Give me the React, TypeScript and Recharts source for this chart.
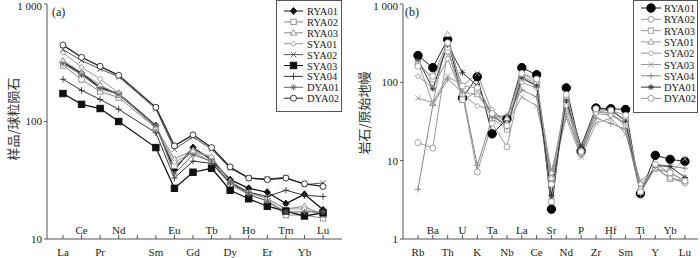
import React from 'react';
import { LineChart, Line, XAxis, YAxis, Legend } from 'recharts';

// (a) chondrite-normalised REE, Pm not analysed
const reeElements = ['La', 'Ce', 'Pr', 'Nd', 'Pm', 'Sm', 'Eu', 'Gd', 'Tb', 'Dy', 'Ho', 'Er', 'Tm', 'Yb', 'Lu'];
const reeBelow = ['La', 'Pr', 'Sm', 'Gd', 'Dy', 'Er', 'Yb'];
const reeRYA01 = [319, 257, 195, 173, null, 92, 39, 60, 47, 32, 27, 25, 20, 24, 17.7];
const reeRYA02 = [300, 228, 180, 160, null, 88, 42, 55, 45, 29, 24, 21, 16, 16, 15];
const reeRYA03 = [330, 260, 205, 168, null, 90, 48, 57, 50, 31, 25, 22, 18, 19, 16];
const reeSYA01 = [385, 290, 230, 175, null, 88, 45, 55, 50, 30, 25, 22, 18, 18, 16];
const reeSYA02 = [410, 330, 280, 240, null, 128, 58, 74, 58, 40, 33, 32.5, 33.5, 29, 30];
const reeSYA03 = [173, 140, 129, 100, null, 60, 27, 37, 40, 26, 22, 19, 17.3, 15.7, 16.7];
const reeSYA04 = [229, 184, 154, 127, null, 80, 33, 46, 44, 30, 25, 23, 26, 23.5, 23];
const reeDYA01 = [310, 250, 190, 170, null, 92, 36, 52, 46, 30, 24, 21, 17, 17, 17];
const reeDYA02 = [447, 352, 295, 247, null, 132, 62, 77, 60, 41, 33, 32, 33, 29.5, 28];

// (b) primitive-mantle-normalised spider diagram
const spiderElements = ['Rb', 'Ba', 'Th', 'U', 'K', 'Ta', 'Nb', 'La', 'Ce', 'Sr', 'Nd', 'P', 'Zr', 'Hf', 'Sm', 'Ti', 'Y', 'Yb', 'Lu'];
const spRYA01 = [220, 154, 353, 63, 118, 22, 34, 154, 125, 2.4, 85, 13.2, 47, 46, 45, 3.8, 11.7, 10.4, 9.8];
const spRYA02 = [17, 14.5, 250, 70, 7.2, 30, 15, 110, 90, 6, 55, 12, 42, 40, 30, 4, 8, 6, 5.2];
const spRYA03 = [180, 110, 280, 60, 75, 35, 25, 120, 95, 3, 60, 13, 45, 43, 33, 4, 8, 7, 5.5];
const spSYA01 = [180, 54, 410, 75, 70, 40, 35, 130, 100, 6, 65, 14, 44, 40, 28, 4.5, 8.5, 5.8, 5.5];
const spSYA02 = [120, 85, 200, 70, 50, 45, 30, 100, 85, 7, 50, 12, 40, 38, 30, 5, 8, 6, 5.5];
const spSYA03 = [63, 55, 120, 90, 130, 42, 30, 65, 50, 7.5, 35, 11, 30, 35, 22, 5.5, 8, 7, 10.5];
const spSYA04 = [4.3, 51, 110, 75, 8.7, 35, 38, 80, 65, 5, 40, 12, 35, 30, 25, 3.8, 9, 8.5, 8];
const spDYA01 = [195, 83, 300, 133, 90, 38, 27, 115, 90, 3.6, 58, 15.3, 47, 45, 32, 4, 8.7, 8.4, 6.1];
const spDYA02 = [160, 120, 320, 90, 85, 40, 28, 130, 110, 5, 70, 13, 46, 44, 38, 4, 9, 7, 5.5];

const reeValues: Record<string, (number | null)[]> = {
  RYA01: reeRYA01, RYA02: reeRYA02, RYA03: reeRYA03, SYA01: reeSYA01, SYA02: reeSYA02,
  SYA03: reeSYA03, SYA04: reeSYA04, DYA01: reeDYA01, DYA02: reeDYA02,
};
const spValues: Record<string, number[]> = {
  RYA01: spRYA01, RYA02: spRYA02, RYA03: spRYA03, SYA01: spSYA01, SYA02: spSYA02,
  SYA03: spSYA03, SYA04: spSYA04, DYA01: spDYA01, DYA02: spDYA02,
};

const serif = '"Liberation Serif", "DejaVu Serif", serif';
const cjk = '"Noto Sans CJK SC", sans-serif';
const axisColor = '#555';

type Style = { name: string; marker: string; stroke: string; width?: number };

const stylesA: Style[] = [
  { name: 'RYA01', marker: 'diamondFilled', stroke: '#111', width: 1.3 },
  { name: 'RYA02', marker: 'squareOpen', stroke: '#888' },
  { name: 'RYA03', marker: 'triangleOpen', stroke: '#888' },
  { name: 'SYA01', marker: 'diamondOpen', stroke: '#999' },
  { name: 'SYA02', marker: 'cross', stroke: '#555' },
  { name: 'SYA03', marker: 'squareFilled', stroke: '#111', width: 1.3 },
  { name: 'SYA04', marker: 'plus', stroke: '#333' },
  { name: 'DYA01', marker: 'asterisk', stroke: '#666' },
  { name: 'DYA02', marker: 'circleOpen', stroke: '#222', width: 1.3 },
];

const stylesB: Style[] = [
  { name: 'RYA01', marker: 'circleFilled', stroke: '#222' },
  { name: 'RYA02', marker: 'circleOpen', stroke: '#999' },
  { name: 'RYA03', marker: 'squareOpen', stroke: '#999' },
  { name: 'SYA01', marker: 'triangleOpen', stroke: '#999' },
  { name: 'SYA02', marker: 'diamondOpen', stroke: '#999' },
  { name: 'SYA03', marker: 'cross', stroke: '#999' },
  { name: 'SYA04', marker: 'plus', stroke: '#888' },
  { name: 'DYA01', marker: 'asterisk', stroke: '#333' },
  { name: 'DYA02', marker: 'circleOpen', stroke: '#999' },
];

const reeRows = reeElements.map((el, i) => {
  const row: any = { x: i, el };
  Object.keys(reeValues).forEach(k => { row[k] = reeValues[k][i]; });
  return row;
});
const spRows = spiderElements.map((el, i) => {
  const row: any = { x: i, el };
  Object.keys(spValues).forEach(k => { row[k] = spValues[k][i]; });
  return row;
});

const Marker = ({ kind, cx, cy, color }: { kind: string; cx: number; cy: number; color: string }) => {
  switch (kind) {
    case 'diamondFilled':
      return <polygon points={`${cx},${cy - 3.5} ${cx + 3},${cy} ${cx},${cy + 3.5} ${cx - 3},${cy}`} fill={color} stroke={color} />;
    case 'squareOpen':
      return <rect x={cx - 2.7} y={cy - 2.7} width={5.4} height={5.4} fill="#fff" stroke={color} strokeWidth={0.9} />;
    case 'squareFilled':
      return <rect x={cx - 3.2} y={cy - 3.2} width={6.4} height={6.4} fill={color} stroke={color} />;
    case 'triangleOpen':
      return <polygon points={`${cx},${cy - 3.2} ${cx + 3.2},${cy + 2.3} ${cx - 3.2},${cy + 2.3}`} fill="#fff" stroke={color} strokeWidth={0.9} />;
    case 'diamondOpen':
      return <polygon points={`${cx},${cy - 2.7} ${cx + 2.7},${cy} ${cx},${cy + 2.7} ${cx - 2.7},${cy}`} fill="#fff" stroke={color} strokeWidth={0.9} />;
    case 'cross':
      return (
        <g stroke={color} strokeWidth={0.9}>
          <line x1={cx - 2.7} y1={cy - 2.7} x2={cx + 2.7} y2={cy + 2.7} />
          <line x1={cx - 2.7} y1={cy + 2.7} x2={cx + 2.7} y2={cy - 2.7} />
        </g>
      );
    case 'plus':
      return (
        <g stroke={color} strokeWidth={0.9}>
          <line x1={cx - 3.2} y1={cy} x2={cx + 3.2} y2={cy} />
          <line x1={cx} y1={cy - 3.2} x2={cx} y2={cy + 3.2} />
        </g>
      );
    case 'asterisk':
      return (
        <g stroke={color} strokeWidth={0.9}>
          <line x1={cx - 3} y1={cy} x2={cx + 3} y2={cy} />
          <line x1={cx} y1={cy - 3} x2={cx} y2={cy + 3} />
          <line x1={cx - 2.2} y1={cy - 2.2} x2={cx + 2.2} y2={cy + 2.2} />
          <line x1={cx - 2.2} y1={cy + 2.2} x2={cx + 2.2} y2={cy - 2.2} />
        </g>
      );
    case 'circleOpen':
      return <circle cx={cx} cy={cy} r={3} fill="#fff" stroke={color} strokeWidth={0.9} />;
    case 'circleFilled':
      return <circle cx={cx} cy={cy} r={4.2} fill="#000" stroke="#000" />;
    default:
      return null;
  }
};

const makeDot = (s: Style) => (p: any) => {
  if (p.cx == null || p.cy == null || p.value == null) return <g key={p.index} />;
  return (
    <g key={p.index}>
      <Marker kind={s.marker} cx={p.cx} cy={p.cy} color={s.stroke} />
    </g>
  );
};

const makeTick = (labels: string[], isBelow: (i: number, lab: string) => boolean) => (props: any) => {
  const { x, y, payload } = props;
  const i = payload.value;
  const lab = labels[i];
  const below = isBelow(i, lab);
  return (
    <g>
      <line x1={x} y1={y} x2={x} y2={y - 4} stroke={axisColor} />
      {lab !== 'Pm' && (
        <text x={x} y={below ? y + 17 : y - 5} textAnchor="middle" fontSize={11} fill="#222" fontFamily={serif}>
          {lab}
        </text>
      )}
    </g>
  );
};

const LegendBox = ({ styles, rowH, lineX, textX, topPad }: { styles: Style[]; rowH: number; lineX: [number, number]; textX: number; topPad: number }) => (
  <div style={{ border: `1px solid ${axisColor}`, background: '#fff', position: 'relative', height: styles.length * rowH + topPad + 2 }}>
    <svg width="100%" height="100%" style={{ position: 'absolute', left: 0, top: 0, overflow: 'visible' }}>
      {styles.map((s, i) => {
        const y = topPad + i * rowH;
        const mx = (lineX[0] + lineX[1]) / 2;
        return (
          <g key={s.name}>
            <line x1={lineX[0]} y1={y} x2={lineX[1]} y2={y} stroke={s.stroke} />
            <Marker kind={s.marker} cx={mx} cy={y} color={s.stroke} />
            <text x={textX} y={y + 4} fontSize={10.5} fill="#222" fontFamily={serif}>{s.name}</text>
          </g>
        );
      })}
    </svg>
  </div>
);

const fmtLog = (v: number) => (v === 1000 ? '1 000' : String(v));

export default function App() {
  const reeTick = makeTick(reeElements, (_i, lab) => reeBelow.includes(lab));
  const spTick = makeTick(spiderElements, i => i % 2 === 0);

  return (
    <div style={{ position: 'absolute', left: 0, top: 0, width: 700, height: 258, background: '#fff', fontFamily: serif }}>
      {/* panel (a) */}
      <div style={{ position: 'absolute', left: 0, top: 0 }}>
        <LineChart width={350} height={258} data={reeRows} margin={{ top: 4, right: 8, left: 0, bottom: 0 }}>
          <XAxis
            dataKey="x"
            type="number"
            domain={[-0.86, 15.02]}
            ticks={reeElements.map((_, i) => i)}
            interval={0}
            tick={reeTick}
            tickLine={false}
            tickSize={0}
            tickMargin={0}
            height={19}
            stroke={axisColor}
            allowDataOverflow
          />
          <XAxis xAxisId="top" orientation="top" dataKey="x" type="number" domain={[-0.86, 15.02]} tick={false} height={0} stroke={axisColor} />
          <YAxis
            scale="log"
            type="number"
            domain={[10, 1000]}
            ticks={[10, 100, 1000]}
            tickFormatter={fmtLog}
            tick={{ fontSize: 11, fill: '#222', fontFamily: serif }}
            tickSize={3}
            tickMargin={2}
            width={47}
            stroke={axisColor}
            allowDataOverflow
          />
          <YAxis yAxisId="right" orientation="right" tick={false} width={0} stroke={axisColor} />
          <Legend
            layout="horizontal"
            verticalAlign="middle"
            align="center"
            wrapperStyle={{ position: 'absolute', left: 276, top: 0, width: 66, height: 103 }}
            content={() => <LegendBox styles={stylesA} rowH={10.9} lineX={[7, 26]} textX={30} topPad={10} />}
          />
          {stylesA.map(s => (
            <Line
              key={s.name}
              dataKey={s.name}
              stroke={s.stroke}
              strokeWidth={s.width ?? 1}
              dot={makeDot(s)}
              activeDot={false}
              connectNulls
              isAnimationActive={false}
            />
          ))}
        </LineChart>
        <div style={{ position: 'absolute', left: 52, top: 5, fontSize: 12, fontFamily: serif, color: '#222' }}>(a)</div>
        <div style={{ position: 'absolute', left: 12, top: 119, transform: 'translate(-50%, -50%) rotate(-90deg)', whiteSpace: 'nowrap', fontSize: 13, fontFamily: cjk, color: '#333' }}>
          样品/球粒陨石
        </div>
      </div>

      {/* panel (b) */}
      <div style={{ position: 'absolute', left: 350, top: 0 }}>
        <LineChart width={350} height={258} data={spRows} margin={{ top: 4, right: 2, left: 0, bottom: 0 }}>
          <XAxis
            dataKey="x"
            type="number"
            domain={[-1.01, 18.88]}
            ticks={spiderElements.map((_, i) => i)}
            interval={0}
            tick={spTick}
            tickLine={false}
            tickSize={0}
            tickMargin={0}
            height={19}
            stroke={axisColor}
            allowDataOverflow
          />
          <XAxis xAxisId="top" orientation="top" dataKey="x" type="number" domain={[-1.01, 18.88]} tick={false} height={0} stroke={axisColor} />
          <YAxis
            scale="log"
            type="number"
            domain={[1, 1000]}
            ticks={[1, 10, 100, 1000]}
            tickFormatter={fmtLog}
            tick={{ fontSize: 11, fill: '#222', fontFamily: serif }}
            tickSize={3}
            tickMargin={2}
            width={53}
            stroke={axisColor}
            allowDataOverflow
          />
          <YAxis yAxisId="right" orientation="right" tick={false} width={0} stroke={axisColor} />
          <Legend
            layout="horizontal"
            verticalAlign="middle"
            align="center"
            wrapperStyle={{ position: 'absolute', left: 283, top: 0, width: 65, height: 104 }}
            content={() => <LegendBox styles={stylesB} rowH={11.3} lineX={[7, 27]} textX={30} topPad={7} />}
          />
          {stylesB.map(s => (
            <Line
              key={s.name}
              dataKey={s.name}
              stroke={s.stroke}
              strokeWidth={1}
              dot={makeDot(s)}
              activeDot={false}
              isAnimationActive={false}
            />
          ))}
        </LineChart>
        <div style={{ position: 'absolute', left: 55, top: 5, fontSize: 12, fontFamily: serif, color: '#222' }}>(b)</div>
        <div style={{ position: 'absolute', left: 13, top: 113, transform: 'translate(-50%, -50%) rotate(-90deg)', whiteSpace: 'nowrap', fontSize: 13, fontFamily: cjk, color: '#333' }}>
          岩石/原始地幔
        </div>
      </div>
    </div>
  );
}
